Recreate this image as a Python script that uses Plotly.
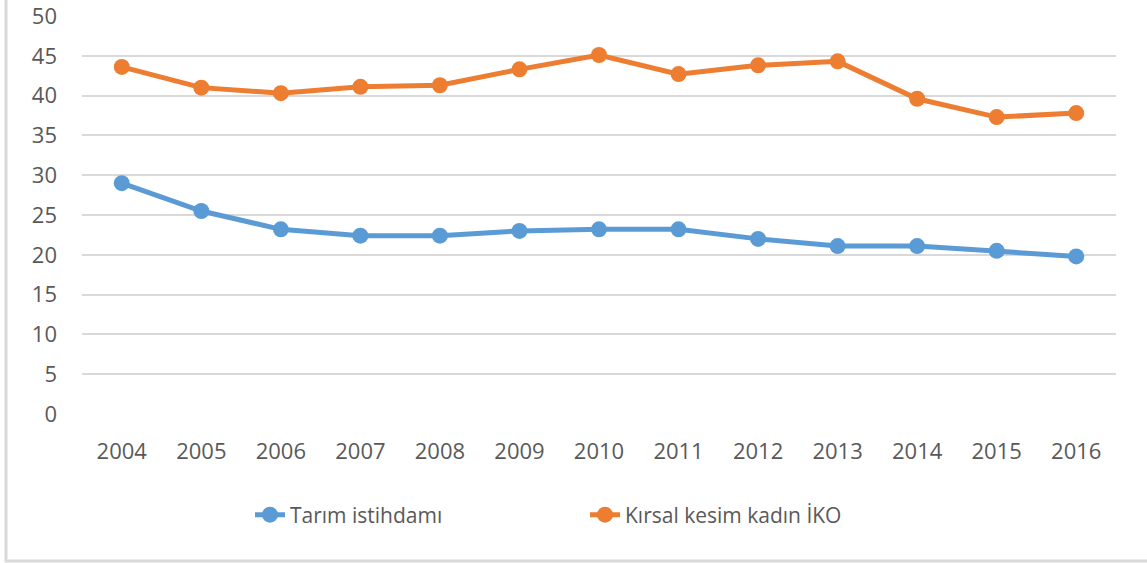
import plotly.graph_objects as go

years = ["2004", "2005", "2006", "2007", "2008", "2009", "2010", "2011", "2012", "2013", "2014", "2015", "2016"]
tarim_istihdami = [29.0, 25.5, 23.2, 22.4, 22.4, 23.0, 23.2, 23.2, 22.0, 21.1, 21.1, 20.5, 19.8]
kirsal_kadin_iko = [43.6, 41.0, 40.3, 41.1, 41.3, 43.3, 45.1, 42.7, 43.8, 44.3, 39.6, 37.3, 37.8]
y_ticks = [0, 5, 10, 15, 20, 25, 30, 35, 40, 45, 50]

BLUE = "#5B9BD5"
ORANGE = "#ED7D31"
TEXT = "#595959"
GRID = "#D9D9D9"
FONT = "Open Sans"

W, H = 1147, 563
L, R, T, B = 82, 31, 16, 149
PW, PH = W - L - R, H - T - B

fig = go.Figure()
fig.add_trace(go.Scatter(
    x=years, y=tarim_istihdami, name="Tarım istihdamı",
    mode="lines+markers",
    line=dict(color=BLUE, width=5),
    marker=dict(color=BLUE, size=16, symbol="circle"),
))
fig.add_trace(go.Scatter(
    x=years, y=kirsal_kadin_iko, name="Kırsal kesim kadın İKO",
    mode="lines+markers",
    line=dict(color=ORANGE, width=5),
    marker=dict(color=ORANGE, size=16, symbol="circle"),
))

fig.update_layout(
    width=W, height=H,
    margin=dict(l=L, r=R, t=T, b=B, autoexpand=False),
    paper_bgcolor="white", plot_bgcolor="white",
    font=dict(family=FONT, color=TEXT, size=22),
    showlegend=True,
    legend=dict(
        orientation="h", x=(250 - L) / PW, xanchor="left", y=(414 - 515) / PH, yanchor="middle",
        font=dict(family=FONT, size=21, color=TEXT),
        itemwidth=30, entrywidth=290, traceorder="normal",
    ),
    xaxis=dict(
        type="category", range=[-0.5, 12.5], showgrid=False, zeroline=False, showline=False,
        ticks="", ticklabelstandoff=22, automargin=False,
        tickfont=dict(family=FONT, size=22, color=TEXT),
    ),
    yaxis=dict(
        range=[0, 50.0001], tickvals=y_ticks, showgrid=True, gridcolor=GRID, gridwidth=2,
        zeroline=False, showline=False, ticks="", ticklabelstandoff=24, automargin=False,
        ticklabeloverflow="allow",
        tickfont=dict(family=FONT, size=22, color=TEXT),
    ),
    shapes=[dict(
        type="rect", xref="paper", yref="paper",
        x0=(6 - L) / PW, x1=1.2, y0=(414 - 561) / PH, y1=1.3,
        line=dict(color=GRID, width=3), fillcolor="rgba(0,0,0,0)", layer="below",
    )],
)

fig.write_html("out.html", config={"displayModeBar": False},
               post_script="document.body.style.margin='0';")
